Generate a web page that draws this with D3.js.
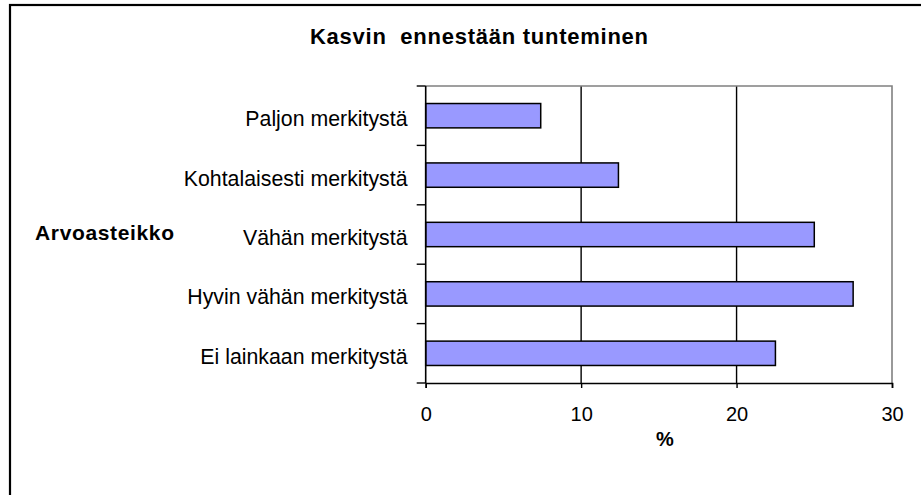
<!DOCTYPE html>
<html><head><meta charset="utf-8">
<script src="https://cdn.jsdelivr.net/npm/d3@7"></script>
<style>body{margin:0;background:#fff}svg{display:block}text{font-family:"Liberation Sans",Arial,sans-serif;fill:#000}</style>
</head><body>
<script>
const categories = ["Paljon merkitystä","Kohtalaisesti merkitystä","Vähän merkitystä","Hyvin vähän merkitystä","Ei lainkaan merkitystä"];
const values = [7.4, 12.4, 25.0, 27.5, 22.5];
const xTicks = [0, 10, 20, 30];
const title = "Kasvin\u00a0\u00a0ennestään tunteminen";
const yTitle = "Arvoasteikko";
const xTitle = "%";

const W = 921, H = 495;
const svg = d3.select("body").append("svg").attr("width", W).attr("height", H);
svg.append("rect").attr("x", 10).attr("y", 5).attr("width", 1200).attr("height", 1200)
  .attr("fill", "#fff").attr("stroke", "#000").attr("stroke-width", 2.2);

const L = 425.7, R = 892, T = 86, B = 383;
const x = d3.scaleLinear().domain([0, 30]).range([L, R]);
const y = d3.scaleBand().domain(categories).range([T, B]).paddingInner(0.59).paddingOuter(0.295);

// gridlines
svg.append("g").selectAll("line").data(xTicks.filter(t => t > 0 && t < 30)).join("line")
  .attr("x1", d => x(d)).attr("x2", d => x(d)).attr("y1", T).attr("y2", B)
  .attr("stroke", "#000").attr("stroke-width", 1.4);
// plot border top/right gray
svg.append("path").attr("d", `M${L},${T}H${R}V${B}`).attr("fill", "none").attr("stroke", "#808080").attr("stroke-width", 1.6);

// bars
svg.append("g").selectAll("rect").data(categories).join("rect")
  .attr("x", x(0)).attr("y", d => y(d)).attr("height", y.bandwidth())
  .attr("width", (d, i) => x(values[i]) - x(0))
  .attr("fill", "#9999FF").attr("stroke", "#000").attr("stroke-width", 1.5);

// x axis
const xa = svg.append("g").attr("transform", `translate(0,${B})`)
  .call(d3.axisBottom(x).tickValues(xTicks).tickSize(5).tickPadding(19).tickFormat(d3.format("d")));
xa.select(".domain").attr("stroke", "#000").attr("stroke-width", 1.6);
xa.selectAll(".tick line").attr("stroke", "#000").attr("stroke-width", 1.4);
xa.selectAll("text").attr("font-size", 20).attr("font-family", "Liberation Sans, Arial, sans-serif");

// y axis with ticks at band boundaries
const step = (B - T) / categories.length;
svg.append("line").attr("x1", L).attr("x2", L).attr("y1", T).attr("y2", B).attr("stroke", "#000").attr("stroke-width", 1.6);
svg.append("g").selectAll("line").data(d3.range(categories.length + 1)).join("line")
  .attr("x1", L - 9).attr("x2", L).attr("y1", i => T + i * step).attr("y2", i => T + i * step)
  .attr("stroke", "#000").attr("stroke-width", 1.4);
svg.append("g").selectAll("text").data(categories).join("text")
  .attr("x", 407.5).attr("y", d => y(d) + y.bandwidth() / 2).attr("dy", "0.49em")
  .attr("text-anchor", "end").attr("font-size", 21.3).text(d => d);

svg.append("text").attr("x", 479).attr("y", 44).attr("text-anchor", "middle")
  .attr("font-size", 22).attr("font-weight", "bold")
  .attr("textLength", 338).attr("lengthAdjust", "spacing").text(title);
svg.append("text").attr("x", 35).attr("y", 240)
  .attr("font-size", 21).attr("font-weight", "bold")
  .attr("textLength", 139).attr("lengthAdjust", "spacing").text(yTitle);
svg.append("text").attr("x", 665).attr("y", 446).attr("text-anchor", "middle")
  .attr("font-size", 20).attr("font-weight", "bold").text(xTitle);
</script>
</body></html>
